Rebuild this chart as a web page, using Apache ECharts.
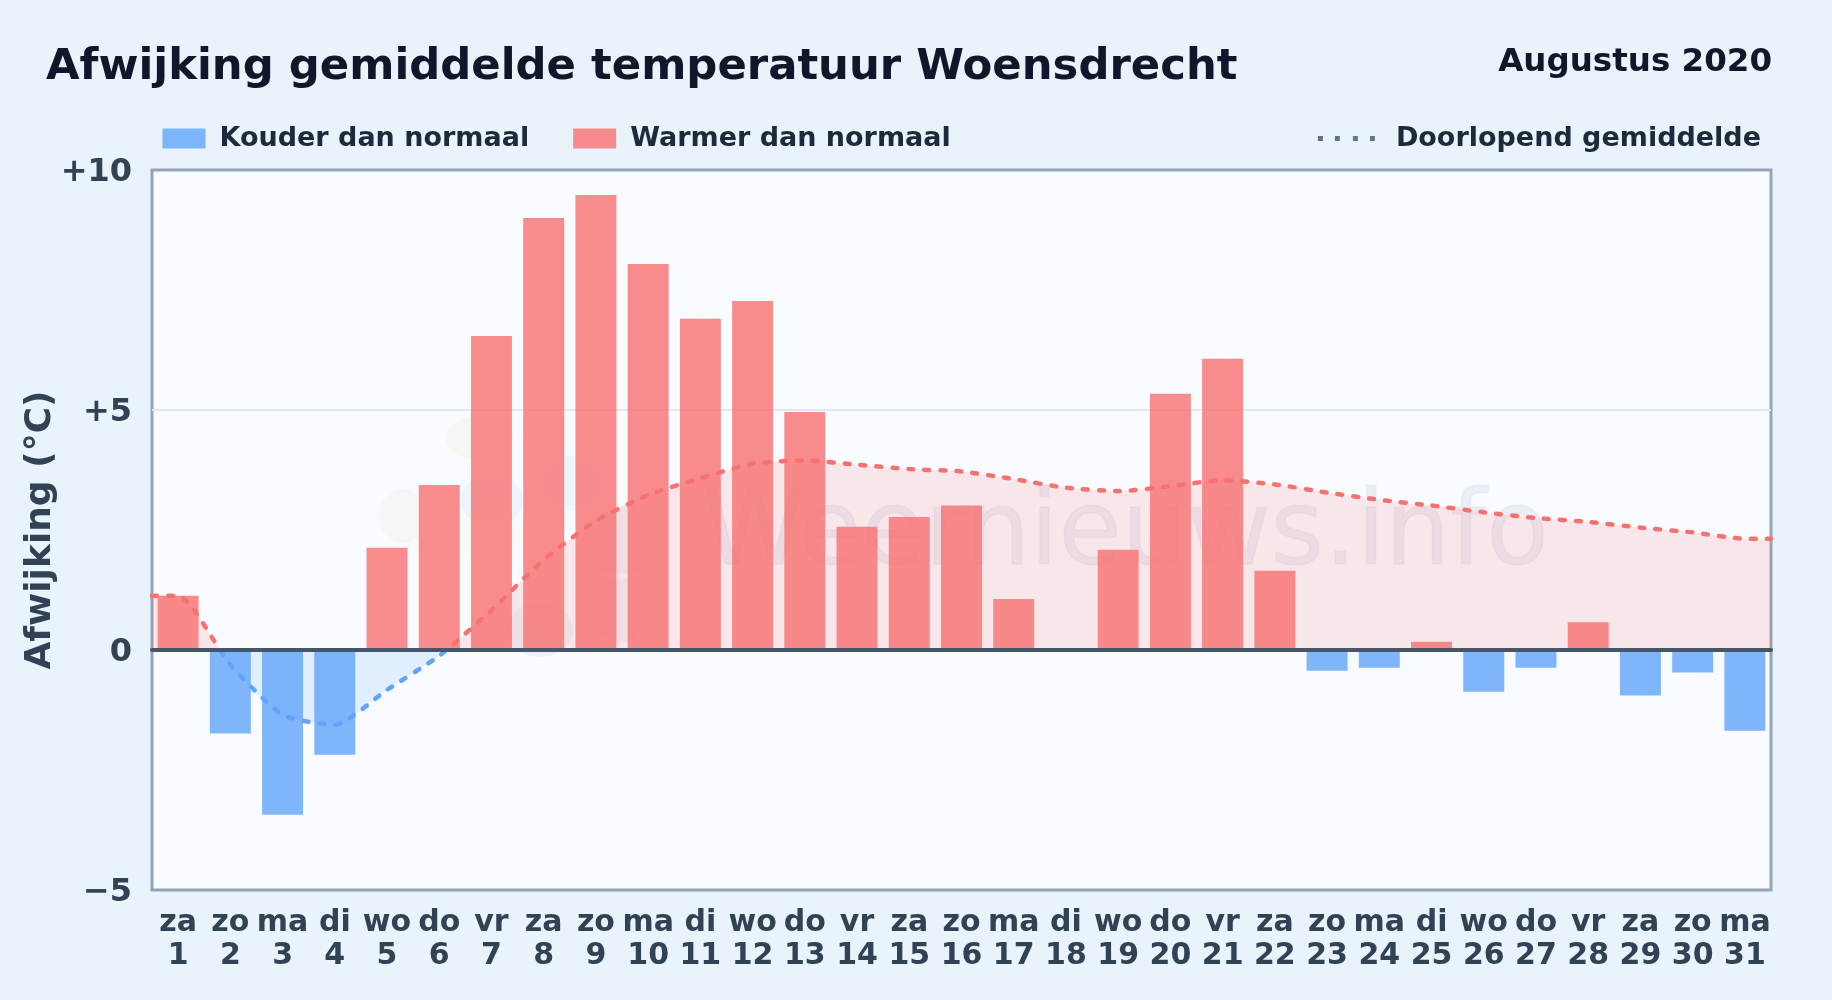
<!DOCTYPE html>
<html>
<head>
<meta charset="utf-8">
<style>html,body{margin:0;padding:0;background:#e8f3fc}#c{width:1832px;height:1000px}</style>
<script src="https://cdn.jsdelivr.net/npm/echarts@6/dist/echarts.min.js"></script>
</head>
<body>
<div id="c"></div>
<script>
var titleText = 'Afwijking gemiddelde temperatuur Woensdrecht';
var periodText = 'Augustus 2020';
var yAxisName = 'Afwijking (°C)';
var coldName = 'Kouder dan normaal';
var warmName = 'Warmer dan normaal';
var avgName = 'Doorlopend gemiddelde';
var watermarkText = 'Weernieuws.info';
var days = [1,2,3,4,5,6,7,8,9,10,11,12,13,14,15,16,17,18,19,20,21,22,23,24,25,26,27,28,29,30,31];
var weekdays = ['za','zo','ma','di','wo','do','vr','za','zo','ma','di','wo','do','vr','za','zo','ma','di','wo','do','vr','za','zo','ma','di','wo','do','vr','za','zo','ma'];
var deviation = [1.13,-1.74,-3.43,-2.18,2.13,3.44,6.54,9.0,9.48,8.04,6.9,7.27,4.96,2.57,2.77,3.01,1.06,0,2.09,5.34,6.07,1.65,-0.43,-0.37,0.17,-0.87,-0.37,0.58,-0.95,-0.47,-1.68];
var runningMean = [1.13,-0.31,-1.35,-1.56,-0.83,-0.12,0.83,1.88,2.69,3.23,3.58,3.88,3.95,3.86,3.77,3.72,3.56,3.38,3.31,3.41,3.54,3.45,3.28,3.13,3.01,2.87,2.75,2.67,2.55,2.45,2.32];
var yTicks = {'10':'+10','5':'+5','0':'0','-5':'\u22125'};

var font = '"DejaVu Sans"';
var red = 'rgba(248,113,113,0.8)', blue = 'rgba(96,165,250,0.8)';
var lineData = [[0.5, runningMean[0]]];
days.forEach(function(d,i){ lineData.push([d, runningMean[i]]); });
lineData.push([31.5, runningMean[runningMean.length-1]]);

function blob(cx,cy,rx,ry,color){
  return {type:'ellipse',z:1,silent:true,shape:{cx:cx,cy:cy,rx:rx,ry:ry},style:{fill:color}};
}
var chart = echarts.init(document.getElementById('c'),null,{renderer:'canvas',width:1832,height:1000});
chart.setOption({
  animation:false,
  backgroundColor:'#e8f3fc',
  textStyle:{fontFamily:font},
  title:[
    {text:titleText,left:41,top:41,textStyle:{fontFamily:font,fontWeight:'bold',fontSize:43.35,color:'#0f172a'}},
    {text:periodText,right:55,top:41,textStyle:{fontFamily:font,fontWeight:'bold',fontSize:32.5,color:'#0f172a'}}
  ],
  legend:[
    {left:157.5,top:120,itemWidth:43,itemHeight:20,itemGap:44,icon:'rect',selectedMode:false,
     data:[{name:coldName,itemStyle:{color:blue}},{name:warmName,itemStyle:{color:red}}],
     textStyle:{fontFamily:font,fontWeight:'bold',fontSize:27,color:'#1e293b',padding:[0,0,0,9]}},
    {right:66,top:120,itemWidth:57,itemHeight:5,selectedMode:false,
     data:[{name:avgName,icon:'path://M0 0h5v5h-5zM17 0h5v5h-5zM35 0h5v5h-5zM52 0h5v5h-5z',itemStyle:{color:'#64748b'}}],
     textStyle:{fontFamily:font,fontWeight:'bold',fontSize:27,color:'#1e293b',padding:[0,0,0,16]}}
  ],
  grid:{left:152,right:61,top:170,bottom:110,show:true,backgroundColor:'#f8fbff',borderColor:'#94a3b8',borderWidth:3},
  xAxis:[
    {type:'category',data:days,position:'bottom',
     axisLine:{show:false,onZero:false},axisTick:{show:false},splitLine:{show:false},
     axisLabel:{interval:0,margin:17,fontFamily:font,fontWeight:'bold',fontSize:30,lineHeight:33,color:'#334155',
       formatter:function(v,i){return weekdays[i]+'\n'+v;}}},
    {type:'value',min:0.5,max:31.5,show:true,z:6,
     axisLine:{show:true,onZero:true,lineStyle:{color:'#475569',width:4}},axisTick:{show:false},axisLabel:{show:false},splitLine:{show:false}}
  ],
  yAxis:{type:'value',min:-5,max:10,interval:5,
    name:yAxisName,nameLocation:'middle',nameGap:93.5,nameRotate:90,nameMoveOverlap:false,
    nameTextStyle:{fontFamily:font,fontWeight:'bold',fontSize:36,color:'#334155'},
    axisLine:{show:false},axisTick:{show:false},
    axisLabel:{margin:20,verticalAlign:'top',lineHeight:5,fontFamily:font,fontWeight:'bold',fontSize:32,color:'#334155',
      formatter:function(v){return yTicks[String(v)];}},
    splitLine:{show:true,showMinLine:false,showMaxLine:false,lineStyle:{color:'#e2e8f0',width:2}}},
  visualMap:{show:false,type:'piecewise',seriesIndex:2,dimension:1,
    pieces:[{gt:-5,lte:0,color:'#60a5fa'},{gt:0,lte:10,color:'#f87171'}]},
  graphic:[
    blob(403,516,24,27,'rgba(190,215,120,0.08)'),
    blob(480,438,34,22,'rgba(190,215,120,0.08)'),
    blob(490,535,30,30,'rgba(190,215,120,0.05)'),
    blob(492,500,31,27,'rgba(100,150,220,0.07)'),
    blob(572,483,35,27,'rgba(100,170,230,0.07)'),
    blob(620,540,38,34,'rgba(110,120,160,0.07)'),
    blob(620,610,28,32,'rgba(110,120,160,0.07)'),
    blob(540,630,33,27,'rgba(110,130,160,0.07)'),
    {type:'text',z:1,silent:true,left:702,top:485,style:{text:watermarkText,fontFamily:font,fontSize:102.6,fontWeight:'normal',fill:'rgba(71,85,135,0.075)',stroke:'rgba(71,85,135,0.04)',lineWidth:2}}
  ],
  series:[
    {name:coldName,type:'bar',xAxisIndex:0,yAxisIndex:0,barWidth:41,barGap:'-100%',z:3,
     data:deviation.map(function(v){return v<0?v:null;}),itemStyle:{color:blue}},
    {name:warmName,type:'bar',xAxisIndex:0,yAxisIndex:0,barWidth:41,barGap:'-100%',z:3,
     data:deviation.map(function(v){return v>0?v:null;}),itemStyle:{color:red}},
    {name:avgName,type:'line',xAxisIndex:1,yAxisIndex:0,data:lineData,showSymbol:false,symbol:'none',z:4,
     smooth:0.2,
     lineStyle:{width:4.5,type:[5,11],cap:'round',opacity:1},
     areaStyle:{opacity:0.15}}
  ]
});
</script>
</body>
</html>
